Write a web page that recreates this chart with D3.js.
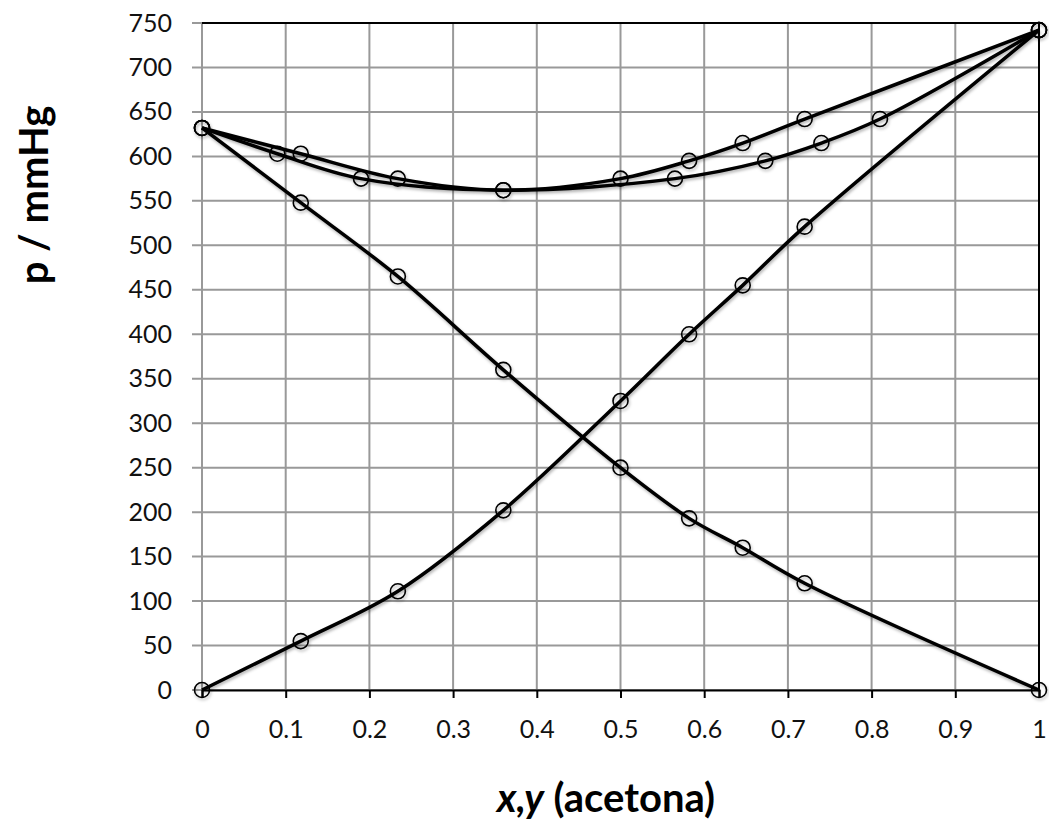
<!DOCTYPE html>
<html>
<head>
<meta charset="utf-8">
<script src="https://cdn.jsdelivr.net/npm/d3@7"></script>
<style>
  body { margin: 0; background: #fff; }
  text { font-family: Lato, "Open Sans", sans-serif; }
</style>
</head>
<body>
<svg id="canvas"></svg>
<script>
// ########## Data ##########
var xTicks = [0, 0.1, 0.2, 0.3, 0.4, 0.5, 0.6, 0.7, 0.8, 0.9, 1];
var yTicks = [0, 50, 100, 150, 200, 250, 300, 350, 400, 450, 500, 550, 600, 650, 700, 750];

// liquid composition x (acetona)
var xLiq = [0, 0.118, 0.234, 0.36, 0.5, 0.582, 0.646, 0.72, 1];
var pAcetona = [0, 55, 111, 202, 325, 400, 455, 521, 742];
var pCloroformo = [632, 548, 465, 360, 250, 193, 160, 120, 0];
var pTotal = [632, 603, 575, 562, 575, 595, 615, 642, 742];

// vapour composition y (acetona)
var yVap = [0, 0.09, 0.19, 0.36, 0.565, 0.673, 0.74, 0.81, 1];
var pVapor = [632, 603, 575, 562, 575, 595, 615, 642, 742];

var w = 1049, h = 825;
var mLeft = 202, mRight = 1039, mTop = 23, mBottom = 690;

var svg = d3.select("#canvas").attr("width", w).attr("height", h);

var x = d3.scaleLinear().domain([0, 1]).range([mLeft, mRight]);
var y = d3.scaleLinear().domain([0, 750]).range([mBottom, mTop]);

var defs = svg.append("defs");
var f = defs.append("filter").attr("id", "shadow")
    .attr("x", "-50%").attr("y", "-50%").attr("width", "200%").attr("height", "200%");
f.append("feDropShadow").attr("dx", 1).attr("dy", 2).attr("stdDeviation", 1.5)
    .attr("flood-color", "#000").attr("flood-opacity", 0.3);

// ########## Grid ##########
svg.append("g").selectAll("line").data(yTicks).enter().append("line")
    .attr("x1", mLeft - 10).attr("x2", mRight)
    .attr("y1", function (d) { return y(d); }).attr("y2", function (d) { return y(d); })
    .attr("stroke", "#999").attr("stroke-width", 2);

svg.append("g").selectAll("line").data(xTicks).enter().append("line")
    .attr("x1", function (d) { return x(d); }).attr("x2", function (d) { return x(d); })
    .attr("y1", mTop).attr("y2", mBottom)
    .attr("stroke", "#999").attr("stroke-width", 2);

// top and right border
svg.append("path")
    .attr("d", "M" + mLeft + "," + mTop + "H" + mRight + "V" + mBottom)
    .attr("fill", "none").attr("stroke", "#000").attr("stroke-width", 2);

// ########## Axes ##########
var xAxis = svg.append("g")
    .attr("transform", "translate(0," + mBottom + ")")
    .call(d3.axisBottom(x).tickValues(xTicks).tickSize(8).tickPadding(22)
        .tickFormat(function (d) { return d3.format("")(d); }));
xAxis.select(".domain").attr("stroke", "#000").attr("stroke-width", 2);
xAxis.selectAll(".tick line").attr("stroke", "#000").attr("stroke-width", 2);
xAxis.selectAll("text").attr("font-size", 25).attr("fill", "#111")
    .style("font-family", "Lato, 'Open Sans', sans-serif");

var yAxis = svg.append("g")
    .attr("transform", "translate(" + mLeft + ",0)")
    .call(d3.axisLeft(y).tickValues(yTicks).tickSize(0).tickPadding(30));
yAxis.select(".domain").remove();
yAxis.selectAll("text").attr("font-size", 25).attr("fill", "#111")
    .style("font-family", "Lato, 'Open Sans', sans-serif");

// ########## Curves ##########
var line = d3.line()
    .x(function (d) { return x(d[0]); })
    .y(function (d) { return y(d[1]); })
    .curve(d3.curveCatmullRom.alpha(0.5));

var series = [
    d3.zip(xLiq, pAcetona),
    d3.zip(xLiq, pCloroformo),
    d3.zip(xLiq, pTotal),
    d3.zip(yVap, pVapor)
];

var g = svg.append("g").attr("filter", "url(#shadow)");

g.selectAll(".curve").data(series).enter().append("path")
    .attr("class", "curve")
    .attr("d", line)
    .attr("fill", "none").attr("stroke", "#000").attr("stroke-width", 3.5);

series.forEach(function (s) {
    g.selectAll(null).data(s).enter().append("circle")
        .attr("cx", function (d) { return x(d[0]); })
        .attr("cy", function (d) { return y(d[1]); })
        .attr("r", 7.5)
        .attr("fill", "none").attr("stroke", "#000").attr("stroke-width", 1.6);
});

// ########## Titles ##########
svg.append("text")
    .attr("transform", "translate(48,195) rotate(-90)")
    .attr("text-anchor", "middle")
    .attr("font-size", 40).attr("font-weight", "bold")
    .text("p / mmHg");

var xt = svg.append("text")
    .attr("x", 606).attr("y", 812)
    .attr("text-anchor", "middle")
    .attr("font-size", 40).attr("font-weight", "bold");
xt.append("tspan").attr("font-style", "italic").text("x,y");
xt.append("tspan").text(" (acetona)");
</script>
</body>
</html>
